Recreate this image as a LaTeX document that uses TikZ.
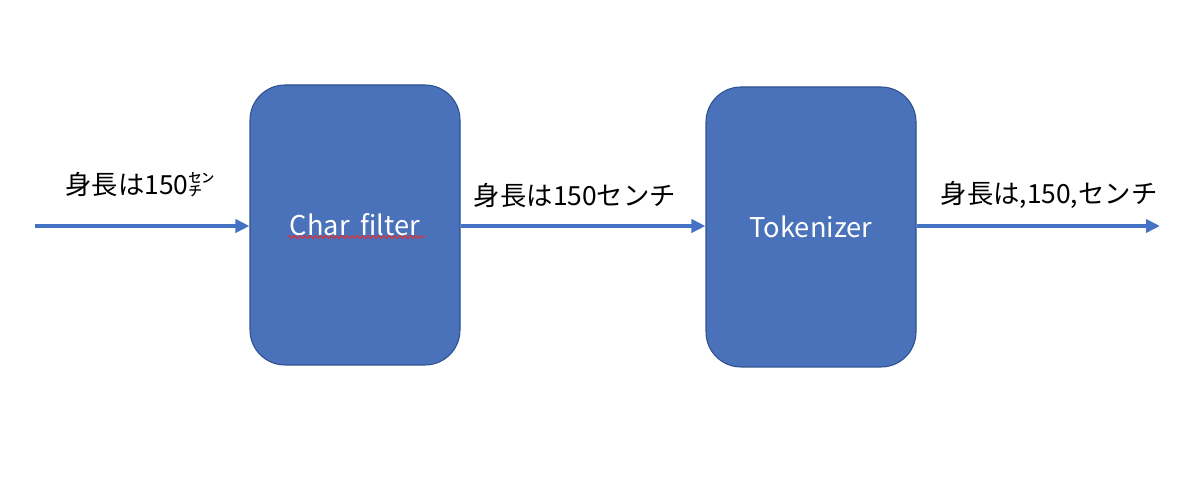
\documentclass[tikz,border=0pt]{standalone}
\usepackage{fontspec}
\setmainfont{Noto Sans CJK JP}
\usepackage{tikz}
\usetikzlibrary{arrows.meta,decorations.pathmorphing}
\definecolor{boxblue}{HTML}{4A72BB}
\definecolor{boxedge}{HTML}{2F528F}
\definecolor{flowblue}{HTML}{4472C4}
\definecolor{spellred}{HTML}{E03030}

\begin{document}
\begin{tikzpicture}[
  stage/.style={draw=boxedge, line width=0.6pt, fill=boxblue, rounded corners=0.7cm,
    minimum width=4.2cm, minimum height=5.6cm, text=white, font=\fontsize{15.5}{18}\selectfont},
  flow/.style={flowblue, line width=2.2pt, -{Triangle[length=0.28cm, width=0.26cm]}},
  tag/.style={font=\fontsize{15}{18}\selectfont}
]
\useasboundingbox (0,0) rectangle (24,9.56);

\node [stage] (cf) at (7.1,5.06) {Char\ \,filter};
\node [stage] (tok) at (16.22,5.02) {Tokenizer};

\coordinate (in) at (0.7,5.04);
\coordinate (out) at (23.2,5.04);

\draw [flow] (in) -- (in -| cf.west);
\draw [flow] (in -| cf.east) -- (in -| tok.west);
\draw [flow] (in -| tok.east) -- (out);

\node [tag] (raw) at (2.8,5.86) {身長は150㌢};
\node [tag] (norm) at (11.5,5.66) {身長は150センチ};
\node [tag] (toks) at (20.98,5.66) {身長は,150,センチ};

% spell-check squiggle under the filter label
\draw [spellred, line width=0.6pt, decorate, decoration={snake, amplitude=0.8pt, segment length=3pt}]
  ([xshift=-1.35cm, yshift=-0.24cm]cf.center) -- ([xshift=1.4cm, yshift=-0.24cm]cf.center);
\end{tikzpicture}
\end{document}
